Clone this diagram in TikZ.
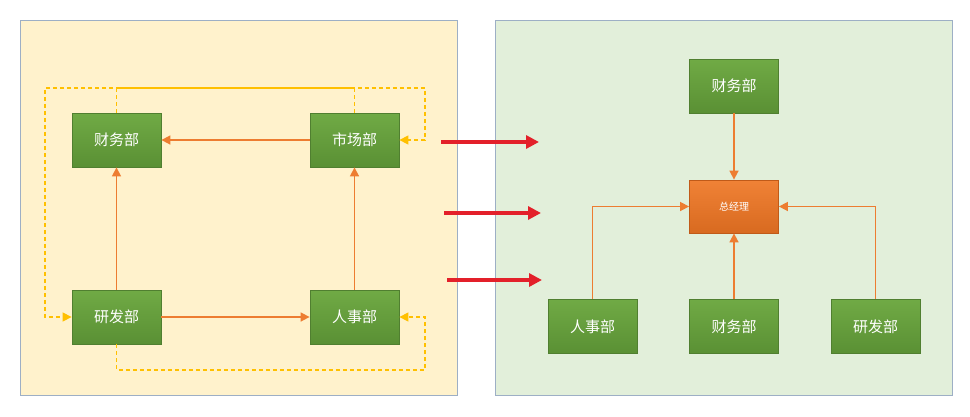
\documentclass[tikz,border=0pt]{standalone}
\usepackage{fontspec}
\newfontfamily\cjk{Noto Sans CJK SC}
\usetikzlibrary{arrows.meta}
\definecolor{panelA}{HTML}{FFF2CC}
\definecolor{panelB}{HTML}{E2EFDA}
\definecolor{panelline}{HTML}{9DAFC5}
\definecolor{gtop}{HTML}{70AA45}
\definecolor{gbot}{HTML}{5A9034}
\definecolor{gline}{HTML}{507F30}
\definecolor{otop}{HTML}{F08236}
\definecolor{obot}{HTML}{D86A20}
\definecolor{oline}{HTML}{C05A18}
\definecolor{orangeln}{HTML}{ED7D31}
\definecolor{yellowln}{HTML}{FFC000}
\definecolor{redln}{HTML}{E3202A}
\tikzset{
  panel/.style={draw=panelline, line width=1pt},
  dept/.style={draw=gline, line width=0.8pt, top color=gtop, bottom color=gbot,
    minimum width=89pt, minimum height=54pt, inner sep=0pt,
    text=white, font=\cjk\fontsize{15}{17}\selectfont},
  boss/.style={draw=oline, line width=0.8pt, top color=otop, bottom color=obot,
    minimum width=89pt, minimum height=53pt, inner sep=0pt,
    text=white, font=\cjk\fontsize{10}{12}\selectfont},
  flow/.style={draw=orangeln, line width=1.6pt, -{Triangle[length=9pt,width=9pt]}},
  dflow/.style={draw=yellowln, line width=1.3pt, dash pattern=on 4pt off 3pt, -{Triangle[length=9pt,width=9pt]}},
  bigarrow/.style={draw=redln, line width=3.2pt, -{Triangle[length=13pt,width=13pt]}}
}
\begin{document}
\begin{tikzpicture}[x=1pt,y=-1pt]
\useasboundingbox[fill=white] (0,0) rectangle (970,416);
% panels
\path[panel, fill=panelA] (20,20) rectangle (457,395);
\path[panel, fill=panelB] (495,20) rectangle (952,395);
% left nodes
\node[dept] (cw) at (116.5,140) {财务部};
\node[dept] (sc) at (354.5,140) {市场部};
\node[dept] (yf) at (116.5,317) {研发部};
\node[dept] (rs) at (354.5,317) {人事部};
% solid flows
\draw[flow] (sc) -- (cw);
\draw[flow] (yf) -- (cw);
\draw[flow] (rs) -- (sc);
\draw[flow] (yf) -- (rs);
% dashed flows
\draw[dflow] (cw.north) -- (116.5,88) -- (425,88) -- (425,140) -- (sc.east);
\draw[dflow] (sc.north) -- (354.5,88) -- (45,88) -- (45,317) -- (yf.west);
\draw[dflow] (yf.south) -- (116.5,370) -- (425,370) -- (425,317) -- (rs.east);
% red arrows
\coordinate (a1s) at (441,142); \coordinate (a1e) at (539,142);
\coordinate (a2s) at (444,213); \coordinate (a2e) at (541,213);
\coordinate (a3s) at (447,280); \coordinate (a3e) at (542,280);
\draw[bigarrow] (a1s) -- (a1e);
\draw[bigarrow] (a2s) -- (a2e);
\draw[bigarrow] (a3s) -- (a3e);
% right nodes
\node[dept] (rcw) at (734,86) {财务部};
\node[boss] (zjl) at (734,206.5) {总经理};
\node[dept] (rrs) at (592.5,326.5) {人事部};
\node[dept] (rcw2) at (734,326.5) {财务部};
\node[dept] (ryf) at (875.5,326.5) {研发部};
\draw[flow] (rcw) -- (zjl);
\draw[flow] (rcw2) -- (zjl);
\draw[flow] (rrs.north) |- (zjl.west);
\draw[flow] (ryf.north) |- (zjl.east);
\end{tikzpicture}
\end{document}
